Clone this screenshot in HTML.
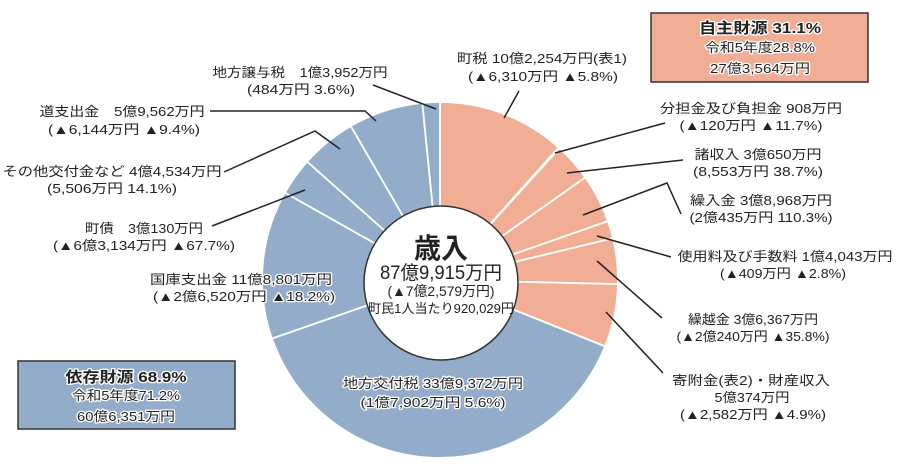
<!DOCTYPE html>
<html><head><meta charset="utf-8"><style>
html,body{margin:0;padding:0;background:#fff;}
svg{display:block;}
text{font-family:"Liberation Sans","Noto Sans CJK JP",sans-serif;font-size:13px;fill:#222;}
.w{stroke:#fff;stroke-width:2.5px;paint-order:stroke;stroke-linejoin:round;}
.b{font-weight:bold;}
</style></head><body>
<svg width="900" height="475" viewBox="0 0 900 475" xmlns="http://www.w3.org/2000/svg">
<g stroke="#fff" stroke-width="1.8">
<path d="M440,280 L440,102 A178,178 0 0 1 558.7,147.4 Z" fill="#f1ae95"/>
<path d="M440,280 L558.7,147.4 A178,178 0 0 1 559.6,148.2 Z" fill="#f1ae95"/>
<path d="M440,280 L559.6,148.2 A178,178 0 0 1 585.4,177.4 Z" fill="#f1ae95"/>
<path d="M440,280 L585.4,177.4 A178,178 0 0 1 608.0,221.1 Z" fill="#f1ae95"/>
<path d="M440,280 L608.0,221.1 A178,178 0 0 1 613.0,238.3 Z" fill="#f1ae95"/>
<path d="M440,280 L613.0,238.3 A178,178 0 0 1 617.9,284.1 Z" fill="#f1ae95"/>
<path d="M440,280 L617.9,284.1 A178,178 0 0 1 605.1,346.4 Z" fill="#f1ae95"/>
<path d="M440,280 L605.1,346.4 A178,178 0 0 1 271.9,338.6 Z" fill="#93acca"/>
<path d="M440,280 L271.9,338.6 A178,178 0 0 1 284.9,192.7 Z" fill="#93acca"/>
<path d="M440,280 L284.9,192.7 A178,178 0 0 1 307.1,161.6 Z" fill="#93acca"/>
<path d="M440,280 L307.1,161.6 A178,178 0 0 1 350.8,126.0 Z" fill="#93acca"/>
<path d="M440,280 L350.8,126.0 A178,178 0 0 1 422.3,102.9 Z" fill="#93acca"/>
<path d="M440,280 L422.3,102.9 A178,178 0 0 1 440,102 Z" fill="#93acca"/>
</g>
<circle cx="441" cy="283" r="77" fill="#fff" stroke="#333" stroke-width="1.5"/>

<g stroke="#222" stroke-width="1.5" fill="none">
<polyline points="373,85 436,109"/>
<polyline points="210,111 365,111 376,121"/>
<polyline points="224,172 315,131 340,149"/>
<polyline points="212,226 305,190"/>
<polyline points="519,91 504,118"/>
<polyline points="665,123 555,153"/>
<polyline points="683,160 567,173"/>
<polyline points="681,214 667,183 583,215"/>
<polyline points="671,257 597,236"/>
<polyline points="662,318 597,261"/>
<polyline points="663,373 606,312"/>
</g>

<rect x="651" y="13" width="217" height="69" fill="#f1ae95" stroke="#333" stroke-width="1.5"/>
<rect x="18" y="361" width="217" height="68" fill="#93acca" stroke="#333" stroke-width="1.5"/>

<g text-anchor="middle">
<text class="w b" x="760" y="33" style="font-size:15px" textLength="122" lengthAdjust="spacingAndGlyphs">自主財源 31.1%</text>
<text class="w" x="760" y="52" textLength="110" lengthAdjust="spacingAndGlyphs">令和5年度28.8%</text>
<text class="w" x="760" y="73" textLength="100" lengthAdjust="spacingAndGlyphs">27億3,564万円</text>
<text class="w b" x="126" y="382" style="font-size:15px" textLength="121" lengthAdjust="spacingAndGlyphs">依存財源 68.9%</text>
<text class="w" x="126" y="400" textLength="108" lengthAdjust="spacingAndGlyphs">令和5年度71.2%</text>
<text class="w" x="126" y="421" textLength="98" lengthAdjust="spacingAndGlyphs">60億6,351万円</text>

<text x="300" y="77" textLength="175" lengthAdjust="spacingAndGlyphs">地方譲与税　1億3,952万円</text>
<text x="301" y="94" textLength="108" lengthAdjust="spacingAndGlyphs">(484万円  3.6%)</text>
<text x="122" y="116" textLength="165" lengthAdjust="spacingAndGlyphs">道支出金　5億9,562万円</text>
<text x="124" y="134" textLength="152" lengthAdjust="spacingAndGlyphs">(▲6,144万円  ▲9.4%)</text>
<text x="112" y="176" textLength="219" lengthAdjust="spacingAndGlyphs">その他交付金など  4億4,534万円</text>
<text x="112" y="193" textLength="130" lengthAdjust="spacingAndGlyphs">(5,506万円  14.1%)</text>
<text x="144" y="233" textLength="118" lengthAdjust="spacingAndGlyphs">町債　3億130万円</text>
<text x="144" y="250" textLength="182" lengthAdjust="spacingAndGlyphs">(▲6億3,134万円  ▲67.7%)</text>
<text class="w" x="241" y="284" textLength="182" lengthAdjust="spacingAndGlyphs">国庫支出金  11億8,801万円</text>
<text class="w" x="244" y="301" textLength="182" lengthAdjust="spacingAndGlyphs">(▲2億6,520万円  ▲18.2%)</text>

<text x="542" y="63" textLength="170" lengthAdjust="spacingAndGlyphs">町税  10億2,254万円(表1)</text>
<text x="543" y="81" textLength="150" lengthAdjust="spacingAndGlyphs">(▲6,310万円  ▲5.8%)</text>
<text x="751" y="113" textLength="182" lengthAdjust="spacingAndGlyphs">分担金及び負担金  908万円</text>
<text x="751" y="130" textLength="143" lengthAdjust="spacingAndGlyphs">(▲120万円  ▲11.7%)</text>
<text x="758" y="159" textLength="127" lengthAdjust="spacingAndGlyphs">諸収入  3億650万円</text>
<text x="758" y="176" textLength="130" lengthAdjust="spacingAndGlyphs">(8,553万円  38.7%)</text>
<text x="761" y="205" textLength="142" lengthAdjust="spacingAndGlyphs">繰入金  3億8,968万円</text>
<text x="761" y="222" textLength="143" lengthAdjust="spacingAndGlyphs">(2億435万円  110.3%)</text>
<text x="785" y="261" textLength="215" lengthAdjust="spacingAndGlyphs">使用料及び手数料  1億4,043万円</text>
<text x="783" y="278" textLength="126" lengthAdjust="spacingAndGlyphs">(▲409万円  ▲2.8%)</text>
<text x="753" y="324" textLength="130" lengthAdjust="spacingAndGlyphs">繰越金  3億6,367万円</text>
<text x="753" y="341" textLength="153" lengthAdjust="spacingAndGlyphs">(▲2億240万円  ▲35.8%)</text>
<text x="751" y="385" textLength="158" lengthAdjust="spacingAndGlyphs">寄附金(表2)・財産収入</text>
<text x="752" y="402" textLength="75" lengthAdjust="spacingAndGlyphs">5億374万円</text>
<text x="753" y="419" textLength="146" lengthAdjust="spacingAndGlyphs">(▲2,582万円  ▲4.9%)</text>

<text class="w" x="433" y="388" textLength="180" lengthAdjust="spacingAndGlyphs">地方交付税  33億9,372万円</text>
<text class="w" x="433" y="407" textLength="145" lengthAdjust="spacingAndGlyphs">(1億7,902万円  5.6%)</text>

<text class="b" x="441" y="258" style="font-size:28px" textLength="54" lengthAdjust="spacingAndGlyphs">歳入</text>
<text x="441" y="279" style="font-size:19px" textLength="122" lengthAdjust="spacingAndGlyphs">87億9,915万円</text>
<text x="441" y="296" style="font-size:14px" textLength="107" lengthAdjust="spacingAndGlyphs">(▲7億2,579万円)</text>
<text x="441" y="313" textLength="146" lengthAdjust="spacingAndGlyphs">町民1人当たり920,029円</text>
</g>
</svg>
</body></html>
